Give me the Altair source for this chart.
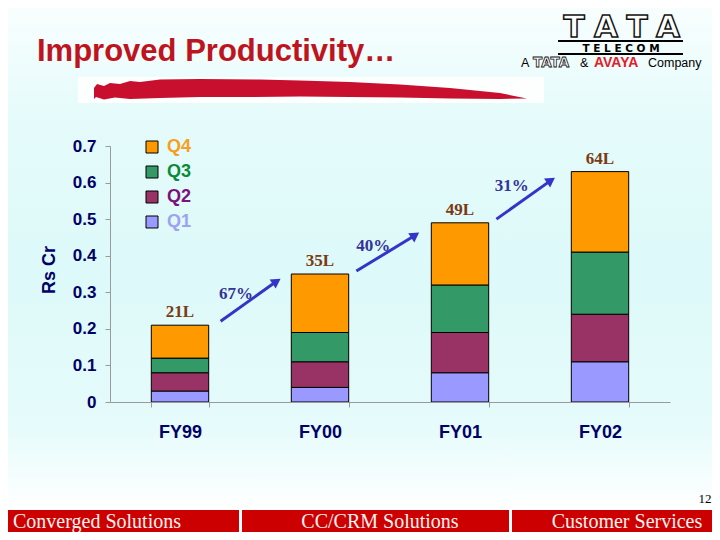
import altair as alt
import pandas as pd

# ---------------- data ----------------
years = ["FY99", "FY00", "FY01", "FY02"]
quarters = ["Q1", "Q2", "Q3", "Q4"]
q1 = [0.03, 0.04, 0.08, 0.11]
q2 = [0.05, 0.07, 0.11, 0.13]
q3 = [0.04, 0.08, 0.13, 0.17]
q4 = [0.09, 0.16, 0.17, 0.22]
total_labels = ["21L", "35L", "49L", "64L"]

growth_labels = ["67%", "40%", "31%"]
# arrows in data units: x on a 0..4 category axis (FY99 spans 0..1), y in Rs Cr
arrow_x0 = [0.79, 1.76, 2.76]
arrow_y0 = [0.221, 0.358, 0.500]
arrow_x1 = [1.19, 2.18, 3.15]
arrow_y1 = [0.330, 0.456, 0.606]
growth_x = [0.90, 1.88, 2.87]
growth_y = [0.295, 0.427, 0.591]

footer_labels = ["Converged Solutions", "CC/CRM Solutions", "Customer Services"]

# ---------------- styles ----------------
bar_colors = ["#9999FF", "#993366", "#339966", "#FF9900"]
legend_text_colors = ["#9CA3F0", "#7A127A", "#0C8A3A", "#F5A020"]
NAVY = "#000066"
W, H = 704, 524
X_RANGE = [102, 662]
Y_RANGE = [394, 138]

rows = []
for qi, (q, vals) in enumerate(zip(quarters, [q1, q2, q3, q4])):
    for y, v in zip(years, vals):
        rows.append({"year": y, "quarter": q, "value": v, "qi": qi})
df = pd.DataFrame(rows)

tot_df = pd.DataFrame({
    "year": years,
    "total": [a + b + c + d for a, b, c, d in zip(q1, q2, q3, q4)],
    "label": total_labels,
})
ar_df = pd.DataFrame({
    "x0": arrow_x0, "y0": arrow_y0, "x1": arrow_x1, "y1": arrow_y1,
    "gx": growth_x, "gy": growth_y, "label": growth_labels,
})

dummy = pd.DataFrame({"k": [0]})

yscale = alt.Scale(domain=[0, 0.7], range=Y_RANGE, nice=False, zero=True)
yaxis = alt.Axis(
    values=[0, 0.1, 0.2, 0.3, 0.4, 0.5, 0.6, 0.7],
    labelExpr="datum.value == 0 ? '0' : format(datum.value, '.1f')",
    grid=False, title=None, offset=-X_RANGE[0], zindex=1,
    domainColor="#9a9a9a", tickColor="#9a9a9a", tickSize=5,
    labelFont="Liberation Sans", labelFontWeight="bold", labelFontSize=17,
    labelColor=NAVY, labelPadding=9,
)
xscale_band = alt.Scale(domain=years, range=X_RANGE, paddingInner=0.59, paddingOuter=0.295)
xaxis = alt.Axis(
    grid=False, title=None, labelAngle=0, offset=-(H - Y_RANGE[0]), zindex=1,
    domainColor="#9a9a9a", tickColor="#9a9a9a", tickSize=5, tickBand="extent",
    labelFont="Liberation Sans", labelFontWeight="bold", labelFontSize=18,
    labelColor=NAVY, labelPadding=16,
)

label_color_expr = " : ".join(
    [f"datum.value === '{q}' ? '{c}'" for q, c in zip(quarters[:-1], legend_text_colors[:-1])]
) + f" : '{legend_text_colors[-1]}'"

bars = alt.Chart(df).mark_bar(stroke="black", strokeWidth=1).encode(
    x=alt.X("year:N", sort=years, scale=xscale_band, axis=xaxis),
    y=alt.Y("value:Q", stack="zero", scale=yscale, axis=yaxis),
    color=alt.Color(
        "quarter:N",
        scale=alt.Scale(domain=quarters[::-1], range=bar_colors[::-1]),
        legend=alt.Legend(
            title=None, orient="none", legendX=135, legendY=130, padding=0,
            symbolType="square", symbolSize=144, symbolStrokeColor="black",
            symbolStrokeWidth=1, labelFont="Liberation Sans", labelFontSize=18,
            labelFontWeight="bold", labelColor={"expr": label_color_expr},
            rowPadding=7, labelOffset=6,
        ),
    ),
    order=alt.Order("qi:Q", sort="ascending"),
)

totals = alt.Chart(tot_df).mark_text(
    font="Liberation Serif", fontWeight="bold", fontSize=17, color="#7B3A12",
    baseline="alphabetic", dy=-8,
).encode(
    x=alt.X("year:N", sort=years, scale=xscale_band, axis=None),
    y=alt.Y("total:Q", scale=yscale, axis=yaxis),
    text="label:N",
)

xlin = alt.Scale(domain=[0, 4], range=X_RANGE, nice=False, zero=False)
ARROW = "#3434C8"
arrow_lines = alt.Chart(ar_df).mark_rule(color=ARROW, strokeWidth=3).encode(
    x=alt.X("x0:Q", scale=xlin, axis=None), x2="x1:Q",
    y=alt.Y("y0:Q", scale=yscale, axis=yaxis), y2="y1:Q",
)
arrow_heads = alt.Chart(ar_df).mark_point(
    shape="triangle-up", filled=True, size=120, angle=56, color=ARROW, opacity=1
).encode(
    x=alt.X("x1:Q", scale=xlin, axis=None),
    y=alt.Y("y1:Q", scale=yscale, axis=yaxis),
)
growth_text = alt.Chart(ar_df).mark_text(
    font="Liberation Serif", fontWeight="bold", fontSize=17, color="#333399"
).encode(
    x=alt.X("gx:Q", scale=xlin, axis=None),
    y=alt.Y("gy:Q", scale=yscale, axis=yaxis),
    text="label:N",
)

# ---------------- decorations ----------------
bg = alt.Chart(dummy).mark_rect(
    fill=alt.Gradient(
        gradient="linear", x1=0, x2=0, y1=0, y2=1,
        stops=[
            alt.GradientStop(offset=0, color="#f8fefe"),
            alt.GradientStop(offset=0.2, color="#e6fbfb"),
            alt.GradientStop(offset=0.5, color="#ddf9f9"),
            alt.GradientStop(offset=0.8, color="#e6fbfb"),
            alt.GradientStop(offset=0.96, color="#ffffff"),
        ],
    )
).encode(x=alt.value(0), x2=alt.value(W), y=alt.value(0), y2=alt.value(H))

white_box = alt.Chart(dummy).mark_rect(fill="white", opacity=0.9).encode(
    x=alt.value(70), x2=alt.value(536), y=alt.value(69), y2=alt.value(95)
)

# brush stroke outline (pixel outline converted to unit symbol path)
top_edge = [(94, 88), (97, 84), (104, 86), (110, 83), (120, 84), (130, 81), (140, 82),
            (160, 79.5), (200, 79), (260, 79.5), (300, 80.5), (350, 82), (400, 84.5),
            (450, 88), (500, 93), (527, 98.5)]
bot_edge = [(500, 99), (450, 98.5), (400, 97.5), (350, 97), (300, 96.5), (250, 97),
            (200, 97), (160, 98), (130, 99), (115, 97.5), (104, 99.5), (96, 97), (94, 99)]
cx, cy, half = 310.5, 90.0, 216.5
pts = top_edge + bot_edge
brush_path = "M " + " L ".join(f"{(x - cx) / half:.4f} {(y - cy) / half:.4f}" for x, y in pts) + " Z"
brush = alt.Chart(dummy).mark_point(
    shape=brush_path, filled=True, fill="#C8102E", size=(2 * half) ** 2, opacity=1, strokeWidth=0
).encode(x=alt.value(cx - 8), y=alt.value(cy - 8))

title = alt.Chart(dummy).mark_text(
    text="Improved Productivity…", font="Liberation Sans", fontWeight="bold",
    fontSize=31, color="#BE1420", align="left", baseline="alphabetic",
).encode(x=alt.value(29), y=alt.value(53))

# logo: outlined TATA letters, rules, TELECOM
logo_letters = []
for ch, lx in zip("TATA", [566, 598, 629, 660]):
    logo_letters.append(
        alt.Chart(dummy).mark_text(
            text=ch, font="DejaVu Sans", fontWeight="bold", fontSize=31, fill="white",
            stroke="#111111", strokeWidth=1.5, align="center", baseline="alphabetic",
        ).encode(x=alt.value(lx), y=alt.value(29))
    )
logo_rule1 = alt.Chart(dummy).mark_rule(color="black", strokeWidth=2).encode(
    x=alt.value(550), x2=alt.value(675), y=alt.value(33)
)
logo_rule2 = alt.Chart(dummy).mark_rule(color="black", strokeWidth=2).encode(
    x=alt.value(550), x2=alt.value(675), y=alt.value(46)
)
telecom = alt.Chart(dummy).mark_text(
    text="T   E   L   E   C   O   M", font="DejaVu Sans", fontWeight="bold", fontSize=10.5,
    color="black", align="center", baseline="alphabetic",
).encode(x=alt.value(613), y=alt.value(43.5))
a_txt = alt.Chart(dummy).mark_text(
    text="A", font="Liberation Sans", fontSize=12.5, color="black", align="left", baseline="alphabetic"
).encode(x=alt.value(513), y=alt.value(59))
tata_small = alt.Chart(dummy).mark_text(
    text="TATA", font="DejaVu Sans", fontWeight="bold", fontSize=13.5, fill="white",
    stroke="#111111", strokeWidth=0.8, align="left", baseline="alphabetic",
).encode(x=alt.value(525), y=alt.value(59))
amp = alt.Chart(dummy).mark_text(
    text="&", font="Liberation Sans", fontSize=12.5, color="black", align="left", baseline="alphabetic"
).encode(x=alt.value(572), y=alt.value(59))
avaya = alt.Chart(dummy).mark_text(
    text="AVAYA", font="Liberation Sans", fontWeight="bold", fontSize=14, color="#E0202A",
    align="left", baseline="alphabetic",
).encode(x=alt.value(586), y=alt.value(59))
company = alt.Chart(dummy).mark_text(
    text="Company", font="Liberation Sans", fontSize=12.5, color="black", align="left", baseline="alphabetic"
).encode(x=alt.value(640), y=alt.value(59))

y_title = alt.Chart(dummy).mark_text(
    text="Rs Cr", font="Liberation Sans", fontWeight="bold", fontSize=18, color=NAVY,
    angle=270, align="center", baseline="middle",
).encode(x=alt.value(42), y=alt.value(262))

footer_bar = alt.Chart(dummy).mark_rect(fill="#CC0000").encode(
    x=alt.value(0), x2=alt.value(W), y=alt.value(502), y2=alt.value(H)
)
sep1 = alt.Chart(dummy).mark_rect(fill="white").encode(
    x=alt.value(231), x2=alt.value(234), y=alt.value(502), y2=alt.value(H)
)
sep2 = alt.Chart(dummy).mark_rect(fill="white").encode(
    x=alt.value(501), x2=alt.value(504), y=alt.value(502), y2=alt.value(H)
)
footer_texts = []
for lbl, fx in zip(footer_labels, [89, 372, 619]):
    footer_texts.append(
        alt.Chart(dummy).mark_text(
            text=lbl, font="Liberation Serif", fontSize=20, color="#FFF4F0",
            align="center", baseline="alphabetic",
        ).encode(x=alt.value(fx), y=alt.value(520))
    )
page_no = alt.Chart(dummy).mark_text(
    text="12", font="Liberation Serif", fontSize=13, color="black", align="center", baseline="alphabetic"
).encode(x=alt.value(697), y=alt.value(495))

chart = alt.layer(
    bg, white_box, brush, title, *logo_letters, logo_rule1, logo_rule2, telecom,
    a_txt, tata_small, amp, avaya, company,
    bars, totals, arrow_lines, arrow_heads, growth_text, y_title,
    footer_bar, sep1, sep2, *footer_texts, page_no,
).resolve_scale(x="independent").properties(
    width=W, height=H, autosize=alt.AutoSizeParams(type="none"), padding=0
).configure_view(stroke=None).configure(background="white")

chart.save("out.html", embed_options={"renderer": "svg", "actions": False})
